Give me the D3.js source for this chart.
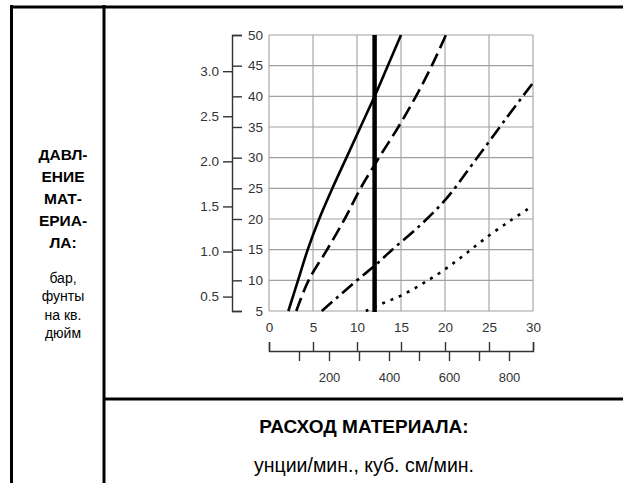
<!DOCTYPE html>
<html>
<head>
<meta charset="utf-8">
<script src="https://cdn.jsdelivr.net/npm/d3@7"></script>
<style>
  body { margin: 0; background: #fff; }
  svg { display: block; font-family: "Liberation Sans", Arial, sans-serif; }
  .axis path, .axis line { stroke: #333; stroke-width: 1.4px; }
  .axis text { fill: #333; font-size: 13.5px; }
</style>
</head>
<body>
<svg id="chart" width="623" height="483"></svg>
<script>
// flow in oz/min (x), pressure in psi (y)
var ozTicks = [0, 5, 10, 15, 20, 25, 30];
var psiTicks = [5, 10, 15, 20, 25, 30, 35, 40, 45, 50];
var barTicks = [0.5, 1.0, 1.5, 2.0, 2.5, 3.0];
var ccTicks = [100, 200, 300, 400, 500, 600, 700, 800];
var ccLabels = [200, 400, 600, 800];
var markerOz = 12;

var solidLine = [[2.2, 5], [3.3, 10], [4.4, 15], [5.7, 20], [7.2, 25], [8.8, 30], [10.4, 35], [12.0, 40], [13.5, 45], [15.0, 50]];
var dashedLine = [[3.1, 5], [4.5, 10], [6.6, 15], [8.6, 20], [10.4, 25], [12.5, 30], [14.7, 35], [16.7, 40], [18.5, 45], [20.1, 50]];
var dashDotLine = [[6.0, 5], [10.0, 10], [12.1, 12.5], [14.0, 15], [17.2, 19], [20.2, 23.4], [23.2, 29.1], [27.0, 36.5], [30.0, 42.2]];
var dottedLine = [[11.0, 5], [13.0, 6.3], [15.0, 7.5], [17.5, 9.5], [20.0, 11.8], [22.5, 14.5], [25.0, 17.3], [27.5, 19.8], [29.5, 21.7]];

var leftBold = ["ДАВЛ-", "ЕНИЕ", "МАТ-", "ЕРИА-", "ЛА:"];
var leftUnits = ["бар,", "фунты", "на кв.", "дюйм"];
var bottomTitle = "РАСХОД МАТЕРИАЛА:";
var bottomUnits = "унции/мин., куб. см/мин.";

var psiPerBar = 14.7, ccMax = 880;

var svg = d3.select("#chart");

var x = d3.scaleLinear().domain([0, 30]).range([269, 533]),
    y = d3.scaleLinear().domain([5, 50]).range([311, 35]),
    yBar = d3.scaleLinear().domain([5 / psiPerBar, 50 / psiPerBar]).range([311, 35]),
    xCc = d3.scaleLinear().domain([0, ccMax]).range([269, 533]);

// frame
var frame = svg.append("g").attr("stroke", "#000").attr("stroke-width", 3);
frame.append("line").attr("x1", 11.5).attr("x2", 11.5).attr("y1", 5).attr("y2", 483);
frame.append("line").attr("x1", 104).attr("x2", 104).attr("y1", 5).attr("y2", 483);
frame.append("line").attr("x1", 10).attr("x2", 623).attr("y1", 7).attr("y2", 7);
frame.append("line").attr("x1", 104).attr("x2", 623).attr("y1", 399).attr("y2", 399);

// grid
var grid = svg.append("g").attr("stroke", "#a0a0a0").attr("stroke-width", 1.1);
grid.selectAll(".gx").data(ozTicks).enter().append("line")
    .attr("x1", function(d) { return x(d); }).attr("x2", function(d) { return x(d); })
    .attr("y1", y(5)).attr("y2", y(50));
grid.selectAll(".gy").data(psiTicks).enter().append("line")
    .attr("x1", x(0)).attr("x2", x(30))
    .attr("y1", function(d) { return y(d); }).attr("y2", function(d) { return y(d); });

// psi axis (ticks to the right, labels right-aligned next to grid)
var psiAxis = svg.append("g")
    .attr("class", "axis")
    .attr("transform", "translate(232,0)")
    .call(d3.axisRight(y).tickValues(psiTicks).tickSize(10).tickSizeOuter(10));
psiAxis.selectAll("text").attr("x", 31).attr("text-anchor", "end");

// bar axis (ticks to the left)
var barAxis = svg.append("g")
    .attr("class", "axis")
    .attr("transform", "translate(232,0)")
    .call(d3.axisLeft(yBar).tickValues(barTicks).tickSize(9).tickSizeOuter(0)
        .tickFormat(d3.format(".1f")));
barAxis.select(".domain").remove();
barAxis.selectAll("text").attr("x", -13);

// oz/min axis
var ozAxis = svg.append("g")
    .attr("class", "axis")
    .attr("transform", "translate(0,351)")
    .call(d3.axisTop(x).tickValues(ozTicks).tickSize(9).tickSizeOuter(9));
ozAxis.selectAll("text").attr("y", -19);

// cc/min axis
var ccAxis = svg.append("g")
    .attr("class", "axis")
    .attr("transform", "translate(0,351)")
    .call(d3.axisBottom(xCc).tickValues(ccTicks).tickSize(10).tickSizeOuter(0)
        .tickPadding(12)
        .tickFormat(function(d) { return ccLabels.indexOf(d) >= 0 ? d : ""; }));
ccAxis.select(".domain").remove();
ccAxis.selectAll("text").style("font-size", "13px");

// curves
var line = d3.line()
    .x(function(d) { return x(d[0]); })
    .y(function(d) { return y(d[1]); })
    .curve(d3.curveCatmullRom);

var series = [
    {data: solidLine, dash: null},
    {data: dashedLine, dash: "14,6"},
    {data: dashDotLine, dash: "14,5,3,5"},
    {data: dottedLine, dash: "3,6"}
];

svg.append("g").selectAll("path").data(series).enter().append("path")
    .attr("fill", "none")
    .attr("stroke", "#000")
    .attr("stroke-width", 2.6)
    .attr("stroke-dasharray", function(d) { return d.dash; })
    .attr("d", function(d) { return line(d.data); });

// marker at 12 oz/min
svg.append("line")
    .attr("x1", x(markerOz)).attr("x2", x(markerOz))
    .attr("y1", y(50)).attr("y2", y(5) + 1)
    .attr("stroke", "#000").attr("stroke-width", 4.5);

// left column text
svg.append("g").selectAll("text").data(leftBold).enter().append("text")
    .attr("x", 63).attr("y", function(d, i) { return 160 + i * 22; })
    .attr("text-anchor", "middle")
    .style("font-weight", "bold").style("font-size", "15.5px")
    .text(function(d) { return d; });
svg.append("g").selectAll("text").data(leftUnits).enter().append("text")
    .attr("x", 63).attr("y", function(d, i) { return 283 + i * 18.3; })
    .attr("text-anchor", "middle")
    .style("font-size", "14px")
    .text(function(d) { return d; });

// bottom text
svg.append("text").attr("x", 364).attr("y", 433)
    .attr("text-anchor", "middle")
    .style("font-weight", "bold").style("font-size", "19px")
    .text(bottomTitle);
svg.append("text").attr("x", 364).attr("y", 472)
    .attr("text-anchor", "middle")
    .style("font-size", "19.5px")
    .text(bottomUnits);
</script>
</body>
</html>
